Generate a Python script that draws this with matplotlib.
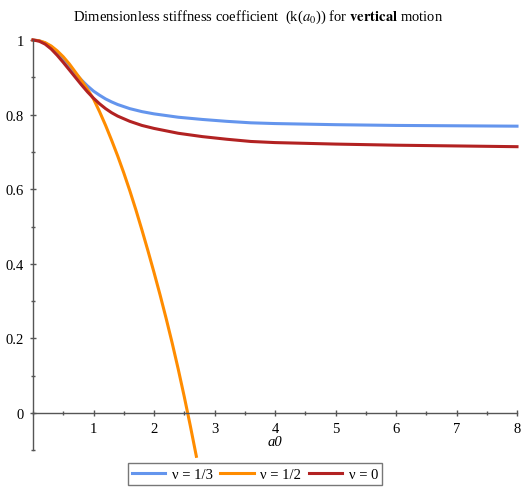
import matplotlib
matplotlib.use("Agg")
import matplotlib.pyplot as plt
from matplotlib.ticker import MultipleLocator

# values
a0_blue = [0, 0.1, 0.2, 0.3, 0.4, 0.5, 0.6, 0.7, 0.8, 0.9, 1.0, 1.1, 1.2, 1.3, 1.4, 1.6,
           1.8, 2.0, 2.4, 2.8, 3.2, 3.6, 4, 5, 6, 7, 8]
k_blue = [1.0, 0.998, 0.992, 0.982, 0.967, 0.948, 0.929, 0.910, 0.893, 0.877, 0.863,
          0.852, 0.842, 0.834, 0.827, 0.816, 0.808, 0.802, 0.793, 0.787, 0.782, 0.778,
          0.776, 0.773, 0.771, 0.770, 0.769]

a0_red = a0_blue
k_red = [1.0, 0.997, 0.989, 0.976, 0.959, 0.940, 0.920, 0.900, 0.880, 0.861, 0.844,
         0.829, 0.816, 0.805, 0.796, 0.782, 0.771, 0.763, 0.750, 0.741, 0.734, 0.728,
         0.725, 0.721, 0.718, 0.716, 0.714]

a0_orange = [0, 0.1, 0.2, 0.3, 0.4, 0.5, 0.6, 0.7, 0.8, 0.9, 1.0, 1.1, 1.2, 1.3, 1.4,
             1.5, 1.6, 1.7, 1.8, 1.9, 2.0, 2.1, 2.2, 2.3, 2.4, 2.5, 2.6, 2.7]
k_orange = [1.0, 0.998, 0.993, 0.984, 0.971, 0.955, 0.936, 0.914, 0.892, 0.868, 0.842,
            0.808, 0.771, 0.731, 0.689, 0.644, 0.596, 0.545, 0.491, 0.435, 0.377,
            0.317, 0.254, 0.188, 0.118, 0.044, -0.034, -0.116]

labels = ["\u03bd = 1/3", "\u03bd = 1/2", "\u03bd = 0"]
colors = ["#6495ED", "#FF8C00", "#B22222"]

plt.rcParams["font.family"] = ["Liberation Serif", "DejaVu Serif"]
plt.rcParams["mathtext.fontset"] = "stix"

fig = plt.figure(figsize=(5.21, 4.89), dpi=100)
ax = fig.add_axes([33 / 521, 1 - 458.8 / 489, 484 / 521, (458.8 - 41) / 489])

lines = []
for x, y, c, lab in [(a0_blue, k_blue, colors[0], labels[0]),
                     (a0_orange, k_orange, colors[1], labels[1]),
                     (a0_red, k_red, colors[2], labels[2])]:
    ln, = ax.plot(x, y, color=c, lw=2.2, label=lab, solid_joinstyle="round")
    ln.set_clip_on(False)
    lines.append(ln)

ax.set_xlim(0, 8)
ax.set_ylim(-0.12, 1.0)

# maple-like axes crossing at the origin
ax.spines["top"].set_visible(False)
ax.spines["right"].set_visible(False)
ax.spines["bottom"].set_position(("data", 0))
ax.spines["left"].set_position(("data", 0))
ax.spines["left"].set_bounds(-0.1, 1.0)
for s in ("bottom", "left"):
    ax.spines[s].set_color("#555555")
    ax.spines[s].set_linewidth(1.0)

ax.xaxis.set_major_locator(MultipleLocator(1))
ax.xaxis.set_minor_locator(MultipleLocator(0.5))
ax.yaxis.set_major_locator(MultipleLocator(0.2))
ax.yaxis.set_minor_locator(MultipleLocator(0.1))
ax.set_xticks([1, 2, 3, 4, 5, 6, 7, 8])
ax.set_xticklabels(["1", "2", "3", "4", "5", "6", "7", "8"])
ax.set_yticks([0, 0.2, 0.4, 0.6, 0.8, 1.0])
ax.set_yticklabels(["0", "0.2", "0.4", "0.6", "0.8", "1"])
ax.tick_params(which="major", direction="inout", length=5, width=1, color="#555555",
               labelsize=10.5, pad=4)
ax.tick_params(which="minor", direction="inout", length=3, width=1, color="#555555")
ax.set_facecolor("none")

ax.text(4, -0.075, "a0", style="italic", ha="center", va="center", fontsize=10.5)

fig.text(258 / 521, 1 - 17 / 489,
         r"Dimensionless stiffness coefficient  (k($a_0$)) for $\mathbf{vertical}$ motion",
         ha="center", va="center", fontsize=10.5)

leg = fig.legend(handles=lines, loc="center", bbox_to_anchor=(255 / 521, 1 - 475 / 489),
                 ncol=3, fontsize=10.5, frameon=True, fancybox=False, handlelength=2.3,
                 columnspacing=0.5, handletextpad=0.45, borderpad=0.3)
leg.get_frame().set_edgecolor("#555555")
leg.get_frame().set_linewidth(1.0)

fig.savefig("out.png", dpi=100)
